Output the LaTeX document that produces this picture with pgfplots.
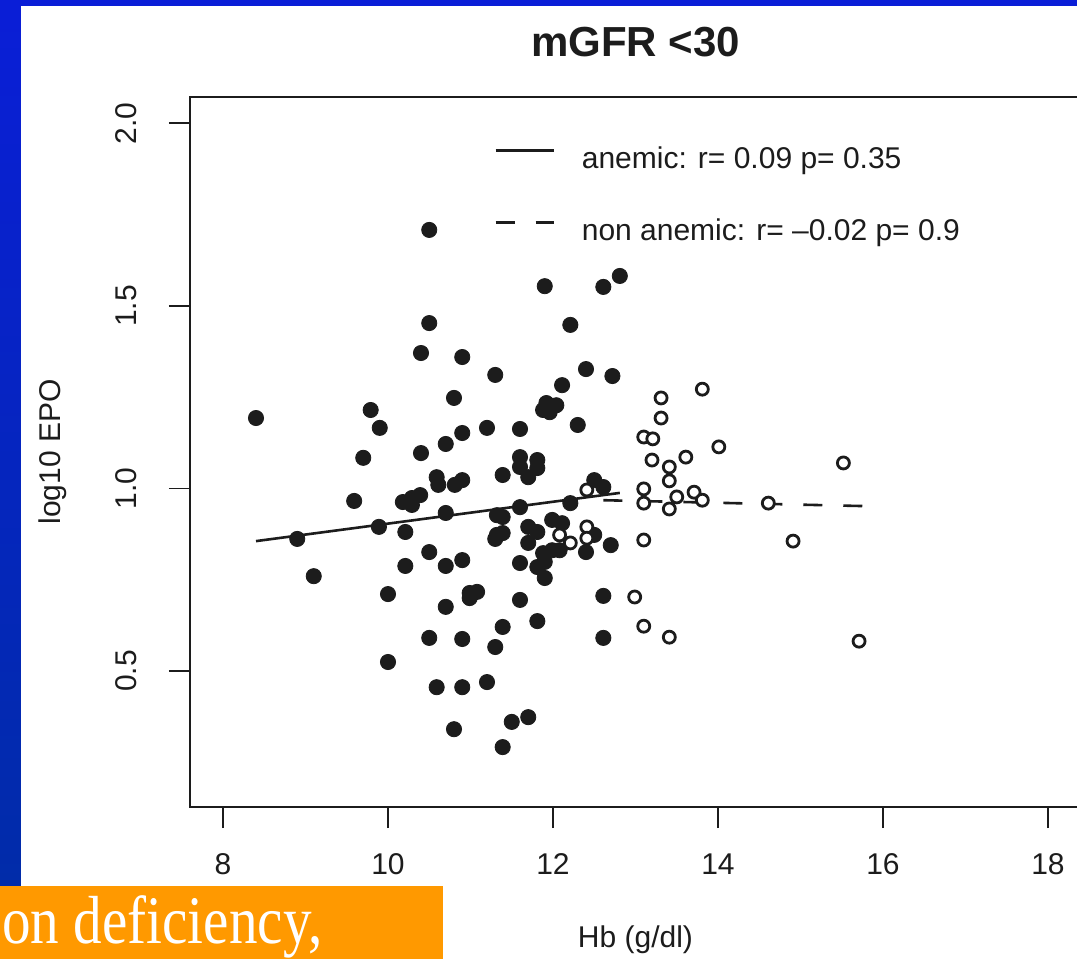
\documentclass[border=0pt]{standalone}
\usepackage{fontspec}
\setmainfont{Liberation Sans}
\setsansfont{Liberation Sans}
\newfontfamily\slidefont{Liberation Serif}
\usepackage{pgfplots}
\usepackage{pgfplotstable}
\pgfplotsset{compat=1.18}
\definecolor{slideblue}{RGB}{0,0,255}
\definecolor{slidebluetop}{RGB}{10,30,215}
\definecolor{slidebluebot}{RGB}{0,45,165}
\definecolor{slideorange}{RGB}{255,153,0}
\definecolor{ink}{RGB}{28,28,28}

\pgfplotstableread{
x y
8.40 1.193
8.90 0.862
9.10 0.760
9.59 0.966
9.70 1.084
9.79 1.215
9.90 1.166
9.89 0.895
10.00 0.711
10.00 0.525
10.18 0.963
10.29 0.974
10.39 0.982
10.29 0.955
10.21 0.881
10.21 0.788
10.40 1.097
10.40 1.371
10.50 1.453
10.50 1.708
10.50 0.826
10.50 0.591
10.59 1.031
10.61 1.010
10.59 0.456
10.70 1.122
10.70 0.933
10.70 0.788
10.70 0.676
10.80 1.248
10.80 0.341
10.81 1.010
10.90 1.023
10.90 1.152
10.90 1.360
10.90 0.804
10.90 0.588
10.90 0.456
10.99 0.714
11.08 0.717
10.99 0.700
11.20 1.166
11.20 0.470
11.30 1.311
11.30 0.566
11.32 0.927
11.39 0.922
11.32 0.873
11.39 0.878
11.30 0.862
11.39 1.037
11.39 0.621
11.39 0.292
11.50 0.361
11.70 0.374
11.60 1.163
11.60 1.086
11.81 1.078
11.60 1.059
11.81 1.056
11.70 1.031
11.60 0.949
11.70 0.895
11.81 0.881
11.70 0.851
11.60 0.796
11.60 0.695
11.81 0.637
11.90 1.554
11.92 1.234
12.04 1.228
11.96 1.209
11.88 1.215
11.99 0.914
12.11 0.905
11.88 0.823
11.99 0.831
12.08 0.831
11.81 0.785
11.90 0.799
11.90 0.755
12.11 1.283
12.21 1.448
12.21 0.960
12.30 1.174
12.40 1.327
12.40 0.826
12.50 0.873
12.50 1.023
12.61 1.004
12.61 1.552
12.61 0.706
12.61 0.591
12.70 0.845
12.72 1.308
12.81 1.582
}\anemic

\pgfplotstableread{
x y
12.41 0.996
12.41 0.895
12.08 0.873
12.21 0.851
12.41 0.864
12.99 0.703
13.10 0.623
13.41 0.593
15.71 0.582
13.31 1.248
13.81 1.272
13.31 1.193
13.10 1.141
13.21 1.136
14.01 1.114
13.20 1.078
13.41 1.059
13.61 1.086
13.41 1.021
13.10 0.999
13.10 0.960
13.41 0.944
13.50 0.977
13.71 0.990
13.81 0.968
14.61 0.960
15.52 1.070
13.10 0.859
14.91 0.856
}\nonanemic

\begin{document}
\begin{tikzpicture}
\useasboundingbox (0,0) rectangle (538.5pt,479.5pt);
\shade[top color=slidebluetop, middle color=slideblue, bottom color=slidebluebot] (0,0) rectangle (538.5pt,479.5pt);
\fill[white] (10.5pt,0) rectangle (538.5pt,476.5pt);
\fill[slideorange] (0,0) rectangle (221.5pt,36.5pt);
\node[anchor=base west, inner sep=0pt, text=white] at (1pt,7.5pt) {\scalebox{0.84}[1]{\slidefont\fontsize{34pt}{34pt}\selectfont on deficiency,}};
\begin{axis}[
  at={(95pt,76pt)}, anchor=south west,
  scale only axis, width=445.5pt, height=355pt,
  xmin=7.6, xmax=18.4, ymin=0.128, ymax=2.072,
  axis line style={ink, line width=0.9pt},
  tick style={ink, line width=0.9pt},
  tick align=outside, major tick length=10.5pt,
  xtick={8,10,12,14,16,18}, ytick={0.5,1,1.5,2},
  xtick pos=bottom, ytick pos=left,
  ticklabel style={font=\fontsize{15}{18}\selectfont, text=ink},
  /pgf/number format/assume math mode=true,
  xticklabel style={anchor=north, inner sep=0pt},
  xticklabel shift=12.5pt,
  yticklabel style={rotate=90, anchor=south, inner sep=0pt,
    /pgf/number format/.cd, fixed, fixed zerofill, precision=1},
  yticklabel shift=16pt,
  title={mGFR <30},
  title style={font=\bfseries\fontsize{21}{25}\selectfont, at={(0.5,1.0606)}, anchor=center, text=ink},
  xlabel={Hb (g/dl)},
  xlabel style={font=\fontsize{15}{18}\selectfont, at={(0.5,-0.187)}, anchor=center, text=ink},
  ylabel={log10 EPO},
  ylabel style={font=\fontsize{15}{18}\selectfont, at={(-0.154,0.5)}, anchor=center, text=ink},
  legend style={at={(0.341,0.931)}, anchor=north west, draw=none, fill=none,
    inner sep=0pt, row sep=22pt, column sep=13.5pt,
    nodes={inner sep=0pt, text height=11pt, text depth=3pt, font=\fontsize{15}{18}\selectfont, text=ink}},
  legend image code/.code={\draw[#1] (0pt,5pt) -- (29pt,5pt);},
  legend cell align=left,
]
\addplot[only marks, mark=*, mark size=3.8pt, mark options={draw=ink, fill=ink}, forget plot] table {\anemic};
\addplot[only marks, mark=*, mark size=3.0pt, mark options={draw=ink, fill=white, line width=1.4pt}, forget plot] table {\nonanemic};
\addplot[ink, line width=1.3pt] coordinates {(8.40,0.856) (12.81,0.988)};
\addlegendentry{anemic: r= 0.09 p= 0.35}
\addplot[ink, line width=1.3pt, dash pattern=on 9.5pt off 10.5pt] coordinates {(12.61,0.968) (15.75,0.952)};
\addlegendentry{non anemic: r= –0.02 p= 0.9}
\end{axis}
\end{tikzpicture}
\end{document}
